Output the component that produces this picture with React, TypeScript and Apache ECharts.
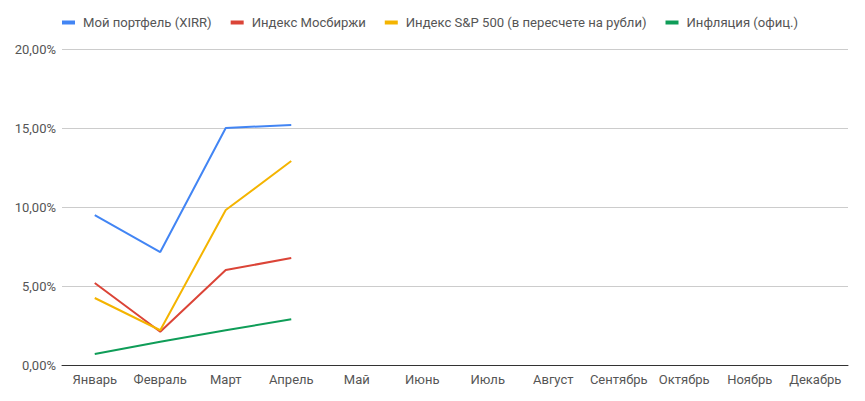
import React, { useEffect, useRef } from "react";
import * as echarts from "echarts";

const months = ["Январь", "Февраль", "Март", "Апрель", "Май", "Июнь", "Июль", "Август", "Сентябрь", "Октябрь", "Ноябрь", "Декабрь"];
const portfolio = [9.49, 7.15, 15.0, 15.19];
const moex = [5.19, 2.1, 6.01, 6.77];
const sp500 = [4.24, 2.2, 9.81, 12.91];
const inflation = [0.7, 1.47, 2.2, 2.89];
const seriesNames = ["Мой портфель (XIRR)", "Индекс Мосбиржи", "Индекс S&P 500 (в пересчете на рубли)", "Инфляция (офиц.)"];
const colors = ["#4285F4", "#DB4437", "#F4B400", "#0F9D58"];

export default function App() {
  const ref = useRef<HTMLDivElement>(null);
  useEffect(() => {
    document.body.style.margin = "0";
    const chart = echarts.init(ref.current!, undefined, { renderer: "svg" });
    const data = [portfolio, moex, sp500, inflation];
    chart.setOption({
      animation: false,
      color: colors,
      textStyle: { fontFamily: "Roboto" },
      legend: {
        top: 16,
        left: 62,
        padding: 0,
        itemWidth: 13,
        itemHeight: 4,
        itemGap: 19,
        icon: "rect",
        textStyle: { fontSize: 13.1, color: "#555", fontFamily: "Roboto", padding: [0, 0, 0, 3] },
        data: seriesNames,
      },
      grid: { left: 62, right: 17, top: 49, bottom: 36 },
      xAxis: {
        type: "category",
        data: months,
        boundaryGap: true,
        axisLine: { lineStyle: { color: "#333", width: 1 } },
        axisTick: { show: false },
        axisLabel: { color: "#555", fontSize: 13, margin: 8, interval: 0 },
      },
      yAxis: {
        type: "value",
        min: 0,
        max: 20,
        interval: 5,
        axisLine: { show: false },
        axisTick: { show: false },
        splitLine: { lineStyle: { color: "#ccc" } },
        axisLabel: {
          color: "#555",
          fontSize: 13,
          margin: 6,
          formatter: (v: number) => v.toFixed(2).replace(".", ",") + "%",
        },
      },
      series: seriesNames.map((name, i) => ({
        name,
        type: "line",
        data: data[i],
        symbol: "none",
        lineStyle: { width: 2, color: colors[i] },
        itemStyle: { color: colors[i] },
      })),
    });
    return () => chart.dispose();
  }, []);
  return <div ref={ref} style={{ width: 865, height: 401 }} />;
}
